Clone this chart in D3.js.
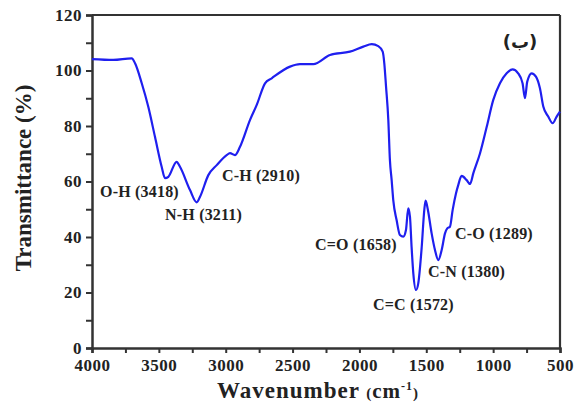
<!DOCTYPE html>
<html><head><meta charset="utf-8">
<script src="https://cdn.jsdelivr.net/npm/d3@7"></script>
<style>body{margin:0;background:#fff}svg{display:block}text{font-family:"Liberation Serif","Times New Roman",serif;font-weight:bold;fill:#222}</style>
</head><body><svg id="c" width="577" height="413"></svg>
<script>
const wavenumber = [4000,3841,3703,3678,3628,3579,3529,3479,3454,3429,3367,3342,3267,3217,3192,3130,3067,2993,2968,2931,2893,2818,2768,2706,2656,2519,2445,2345,2220,2071,1971,1908,1859,1826,1814,1801,1784,1772,1759,1747,1722,1697,1672,1652,1635,1622,1610,1597,1577,1560,1534,1515,1505,1490,1460,1435,1410,1385,1360,1343,1323,1303,1278,1261,1236,1198,1173,1148,1098,1048,999,949,899,855,813,780,762,745,712,680,650,625,588,555,525,500];
const transmittance = [104.1,103.8,104.4,102.6,95.4,86.9,76.1,65.3,61.2,61.7,67.1,65.3,56.9,52.5,54.5,62.3,65.9,69.5,70.2,69.5,72.5,82.2,87.6,95.4,97.2,101.4,102.3,102.3,105.6,106.8,108.6,109.5,108.8,106.8,102.6,94.2,82.2,67.7,60.5,53.3,46.1,40.7,40.1,42.5,50.3,47.3,36.5,26.9,20.9,23.3,36.5,49.7,53.1,50.3,41.3,35.3,31.7,35.3,41.3,43.1,43.7,49.7,55.7,58.7,62.0,60.5,59.1,63.0,70.2,79.7,89.4,95.4,99.0,100.4,99.0,95.4,90.0,96.0,99.0,97.8,93.6,87.0,83.4,81.0,83.4,85.2];
const xTicks = [4000,3500,3000,2500,2000,1500,1000,500];
const yTicks = [0,20,40,60,80,100,120];
const peakLabels = ["O-H (3418)","N-H (3211)","C-H (2910)","C=O (1658)","C=C (1572)","C-N (1380)","C-O (1289)"];
const peakLabelWn = [3940,3454,3028,2332,1899,1487,1286];
const peakLabelT = [55.9,47.6,61.6,36.8,15.1,27.0,40.7];
const panelLabel = "(ب)";

const svg = d3.select("#c");
const L=92,R=560,T=15,B=348;
const x = d3.scaleLinear().domain([4000,500]).range([L,R]);
const y = d3.scaleLinear().domain([0,120]).range([B,T]);
const axisCol="#333";

svg.append("line").attr("x1",L).attr("x2",R).attr("y1",T).attr("y2",T).attr("stroke",axisCol).attr("stroke-width",2.2);
svg.append("line").attr("x1",R).attr("x2",R).attr("y1",T).attr("y2",B).attr("stroke",axisCol).attr("stroke-width",2.2);

const xAxis = svg.append("g").attr("transform",`translate(0,${B})`)
  .call(d3.axisBottom(x).tickValues(d3.range(4000,499,-250)).tickSize(5).tickFormat(d=>xTicks.includes(d)?d:""));
xAxis.select(".domain").attr("stroke",axisCol).attr("stroke-width",2.5);
xAxis.selectAll(".tick line").attr("stroke",axisCol).attr("stroke-width",2);
xAxis.selectAll(".tick text").attr("font-size",17).attr("letter-spacing","0.5px").attr("dy","0.9em").attr("fill","#222")
  .style("font-family","Liberation Serif").style("font-weight","bold");

const yAxis = svg.append("g").attr("transform",`translate(${L},0)`)
  .call(d3.axisLeft(y).tickValues(d3.range(0,121,10)).tickSize(6).tickFormat(d=>yTicks.includes(d)?d:""));
yAxis.select(".domain").attr("stroke",axisCol).attr("stroke-width",2.5);
yAxis.selectAll(".tick line").attr("stroke",axisCol).attr("stroke-width",2);
yAxis.selectAll(".tick text").attr("font-size",17).attr("letter-spacing","0.5px").attr("x",-10).attr("fill","#222")
  .style("font-family","Liberation Serif").style("font-weight","bold");

const pts = wavenumber.map((w,i)=>[w,transmittance[i]]);
svg.append("path").datum(pts)
  .attr("fill","none").attr("stroke","#1f1fef").attr("stroke-width",2.2)
  .attr("d",d3.line().x(d=>x(d[0])).y(d=>y(d[1])).curve(d3.curveMonotoneX));

peakLabels.forEach((t,i)=>{
  svg.append("text").attr("x",x(peakLabelWn[i])).attr("y",y(peakLabelT[i]))
    .attr("font-size",16).attr("letter-spacing","0.2px").attr("dominant-baseline","middle").text(t);
});
svg.append("text").attr("x",520).attr("y",43).attr("text-anchor","middle").attr("dominant-baseline","middle")
  .attr("direction","ltr").style("unicode-bidi","isolate")
  .attr("font-size",18).style("font-family","'DejaVu Sans', 'Noto Sans', sans-serif").style("font-weight","bold").attr("fill","#333").text(panelLabel);

svg.append("text").attr("transform","translate(26,178) rotate(-90)").attr("text-anchor","middle").attr("dominant-baseline","middle")
  .attr("font-size",23).text("Transmittance (%)");
const xt = svg.append("text").attr("x",217).attr("y",398).attr("font-size",23).attr("letter-spacing","1px");
xt.append("tspan").text("Wavenumber ");
xt.append("tspan").attr("font-size",15).text("(");
xt.append("tspan").attr("font-size",21).text("cm");
xt.append("tspan").attr("font-size",12).attr("dy",-8).text("-1");
xt.append("tspan").attr("font-size",15).attr("dy",8).text(")");
</script></body></html>
